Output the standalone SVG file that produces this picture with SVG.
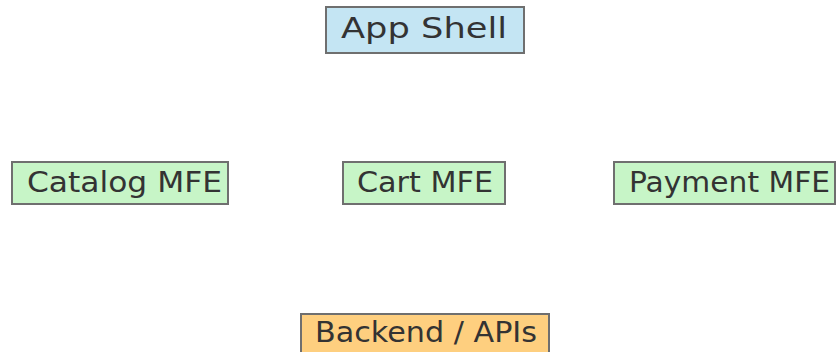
<svg xmlns="http://www.w3.org/2000/svg" width="837" height="352" viewBox="0 0 837 352">
  <style>
    .box { stroke: #6f6f6f; stroke-width: 2; }
    .shell { fill: #c4e5f3; }
    .mfe { fill: #c7f5c7; }
    .api { fill: #fecf7f; }
    .label { font-family: "DejaVu Sans", sans-serif; font-size: 27.5px; fill: #333333; }
  </style>
  <rect width="837" height="352" fill="#ffffff"/>
  <g id="app-shell">
    <rect class="box shell" x="326" y="7" width="198" height="46"/>
    <text class="label" x="341" y="38" textLength="166" lengthAdjust="spacingAndGlyphs">App Shell</text>
  </g>
  <g id="catalog-mfe">
    <rect class="box mfe" x="12" y="162" width="216" height="42"/>
    <text class="label" x="27" y="192" textLength="195" lengthAdjust="spacingAndGlyphs">Catalog MFE</text>
  </g>
  <g id="cart-mfe">
    <rect class="box mfe" x="343" y="162" width="162" height="42"/>
    <text class="label" x="357" y="192" textLength="136" lengthAdjust="spacingAndGlyphs">Cart MFE</text>
  </g>
  <g id="payment-mfe">
    <rect class="box mfe" x="614" y="162" width="221" height="42"/>
    <text class="label" x="629" y="192" textLength="201" lengthAdjust="spacingAndGlyphs">Payment MFE</text>
  </g>
  <g id="backend-apis">
    <rect class="box api" x="301" y="314" width="248" height="44"/>
    <text class="label" x="315" y="342" textLength="222" lengthAdjust="spacingAndGlyphs">Backend / APIs</text>
  </g>
  <g id="connectors"></g>
</svg>
